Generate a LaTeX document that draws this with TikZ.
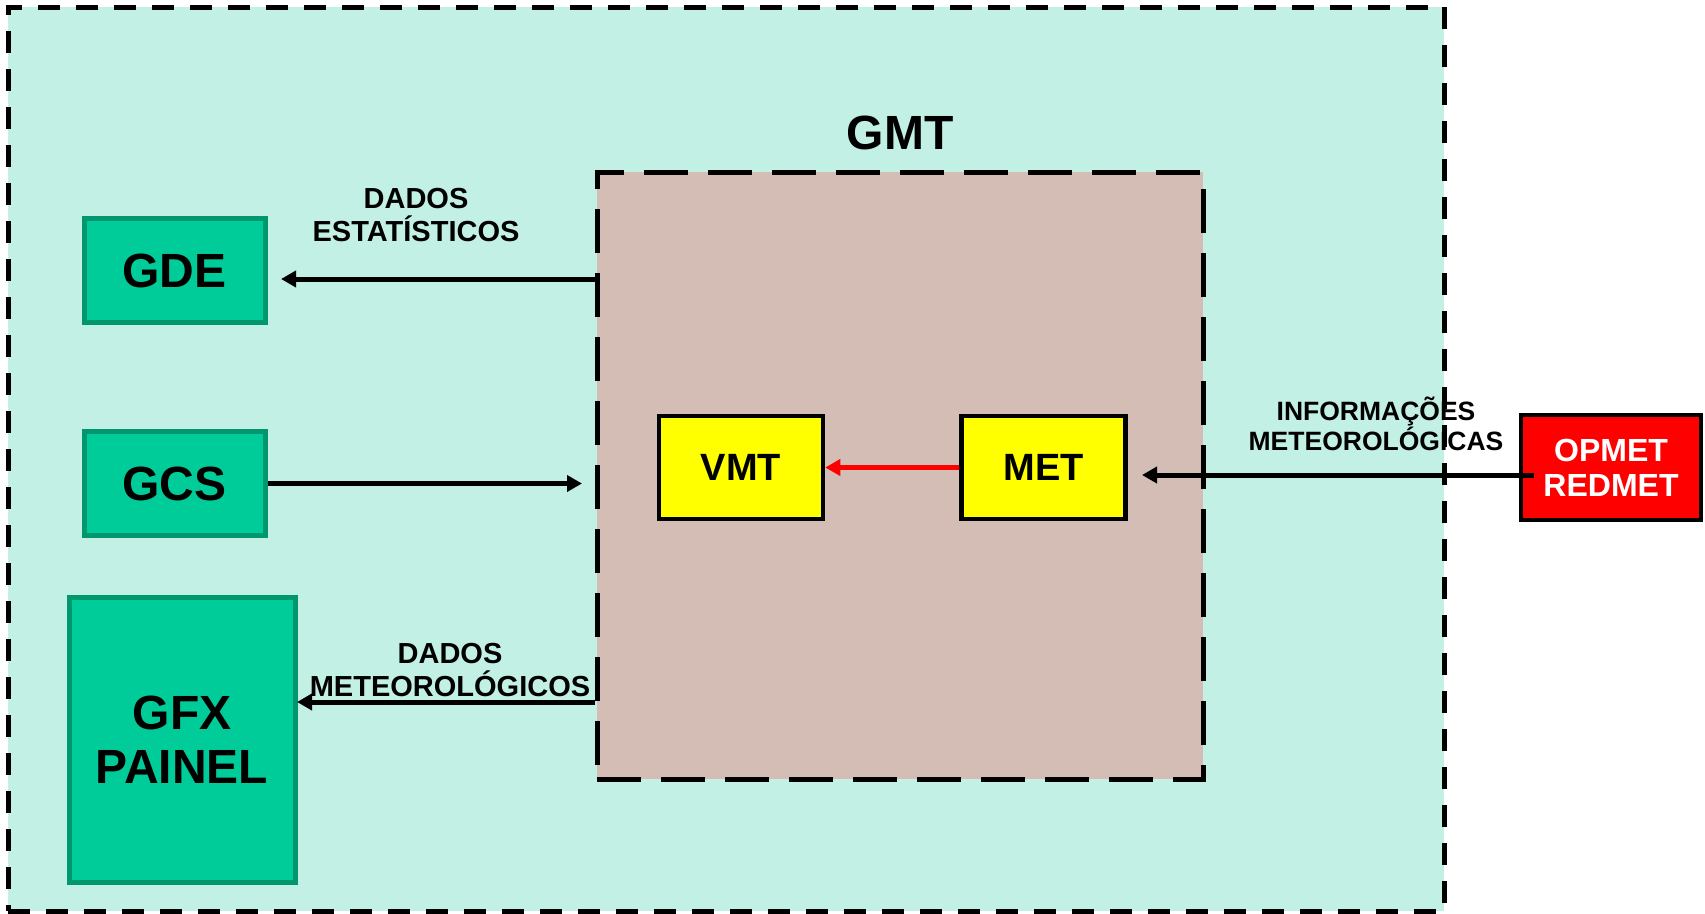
\documentclass[tikz,border=0pt]{standalone}
\usepackage{fontspec}
\setmainfont{Liberation Sans}
\usetikzlibrary{arrows.meta}
\definecolor{outerfill}{HTML}{C2F0E4}
\definecolor{gmtfill}{HTML}{D3BDB4}
\definecolor{greenfill}{HTML}{00CC99}
\definecolor{greenline}{HTML}{00966E}
\definecolor{yellowfill}{HTML}{FFFF00}
\definecolor{redfill}{HTML}{FF0000}
\tikzset{
  greenbox/.style={draw=greenline, fill=greenfill, line width=5pt, inner sep=0pt,
    font=\fontsize{48}{54}\selectfont\bfseries, align=center},
  yellowbox/.style={draw=black, fill=yellowfill, line width=4.5pt, inner sep=0pt,
    minimum width=164pt, minimum height=103pt, font=\fontsize{38}{44}\selectfont\bfseries},
  redbox/.style={draw=black, fill=redfill, line width=4.5pt, inner sep=0pt, text=white,
    minimum width=180pt, minimum height=105pt, align=center,
    font=\fontsize{32}{35}\selectfont\bfseries},
  arr/.style={line width=5pt, -{Triangle[length=15pt,width=16pt]}},
  flowlabel/.style={align=center, inner sep=0pt, font=\fontsize{29}{33}\selectfont\bfseries},
}
\begin{document}
\begin{tikzpicture}[x=1pt,y=-1pt]
\useasboundingbox (0,0) rectangle (1705,913);
% outer region
\node[draw=black, fill=outerfill, line width=5pt, dash pattern=on 22pt off 16pt,
  minimum width=1436pt, minimum height=904pt, inner sep=0pt] (outer) at (726,459) {};
% GMT region
\node[draw=black, fill=gmtfill, line width=5pt, dash pattern=on 44pt off 20pt,
  minimum width=606pt, minimum height=607pt, inner sep=0pt] (gmt) at (900,475.5) {};
\node[font=\fontsize{48}{54}\selectfont\bfseries, inner sep=0pt] (gmttitle) at (900,133) {GMT};
% left boxes
\node[greenbox, minimum width=181pt, minimum height=104pt] (gde) at (174.5,270.5) {GDE};
\node[greenbox, minimum width=181pt, minimum height=104pt] (gcs) at (174.5,483.5) {GCS};
\node[greenbox, minimum width=226pt, minimum height=285pt] (gfx) at (182,740) {GFX\\PAINEL};
% inner boxes
\node[yellowbox] (vmt) at (741,467.5) {VMT};
\node[yellowbox] (met) at (1043.5,467.5) {MET};
% external source
\node[redbox] (opmet) at (1611,467.5) {OPMET\\REDMET};
% connectors
\coordinate (gdeTip) at (281,279);
\coordinate (gcsTip) at (582,483.5);
\coordinate (gfxTip) at (297,702);
\coordinate (metTip) at (1142,475);
\draw[arr] (gmt.west |- gdeTip) -- (gdeTip);
\draw[arr] (gcs.east) -- (gcsTip);
\draw[arr] (gmt.west |- gfxTip) -- (gfxTip);
\draw[arr, red] (met.west) -- (vmt.east);
\draw[arr] ([xshift=15pt]opmet.west |- metTip) -- (metTip);
% labels
\node[flowlabel] (lblest) at (416,215.5) {DADOS\\ESTATÍSTICOS};
\node[flowlabel] (lblmet) at (450,670) {DADOS\\METEOROLÓGICOS};
\node[flowlabel, font=\fontsize{26.5}{30}\selectfont\bfseries] (lblinfo) at (1376,423.5) {INFORMAÇÕES\\METEOROLÓGICAS};
\end{tikzpicture}
\end{document}
